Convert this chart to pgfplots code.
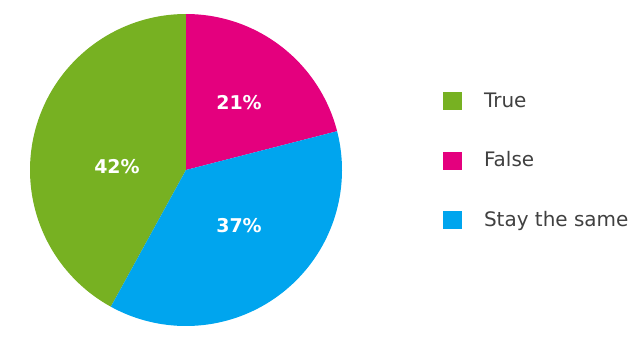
\documentclass[border=0pt]{standalone}
\usepackage{fontspec}
\setmainfont{DejaVu Sans}
\usepackage{pgfplots}
\pgfplotsset{compat=1.18}
\definecolor{pgreen}{HTML}{77B122}
\definecolor{ppink}{HTML}{E4007E}
\definecolor{pblue}{HTML}{00A5EE}
\definecolor{ptext}{HTML}{404040}
\begin{document}
\begin{tikzpicture}
\begin{axis}[
  scale only axis, width=16cm, height=8.425cm,
  xmin=0, xmax=640, ymin=0, ymax=337,
  hide axis, clip=false,
  legend style={draw=none, fill=none, at={(axis cs:443,245)}, anchor=north west,
    font=\fontsize{14.2}{16}\selectfont, text=ptext, row sep=29.5pt, column sep=0pt,
    inner sep=0pt,
    nodes={inner sep=0pt, text height=10.5pt, text depth=2pt, anchor=west}},
  legend cell align=left,
  legend image code/.code={\fill[#1] (0pt,-6.4pt) rectangle (13.5pt,6.4pt); \path (29pt,0pt);},
]
\path (axis cs:0,0) rectangle (axis cs:640,337);
% shares (percent): True 42, False 21, Stay the same 37; pie starts at the top, clockwise
\addplot[fill=pgreen, draw=none, domain=90:241.2, samples=120, variable=\t]
  ({186+156*cos(\t)},{167+156*sin(\t)}) -- (axis cs:186,167) -- cycle;
\addlegendentry{True}
\addplot[fill=ppink, draw=none, domain=14.4:90, samples=80, variable=\t]
  ({186+156*cos(\t)},{167+156*sin(\t)}) -- (axis cs:186,167) -- cycle;
\addlegendentry{False}
\addplot[fill=pblue, draw=none, domain=-118.8:14.4, samples=120, variable=\t]
  ({186+156*cos(\t)},{167+156*sin(\t)}) -- (axis cs:186,167) -- cycle;
\addlegendentry{Stay the same}
\node[text=white, font=\fontsize{13.5}{15}\selectfont\bfseries] at (axis cs:239,234) {21\%};
\node[text=white, font=\fontsize{13.5}{15}\selectfont\bfseries] at (axis cs:239,111) {37\%};
\node[text=white, font=\fontsize{13.5}{15}\selectfont\bfseries] at (axis cs:117,170) {42\%};
\end{axis}
\end{tikzpicture}
\end{document}
